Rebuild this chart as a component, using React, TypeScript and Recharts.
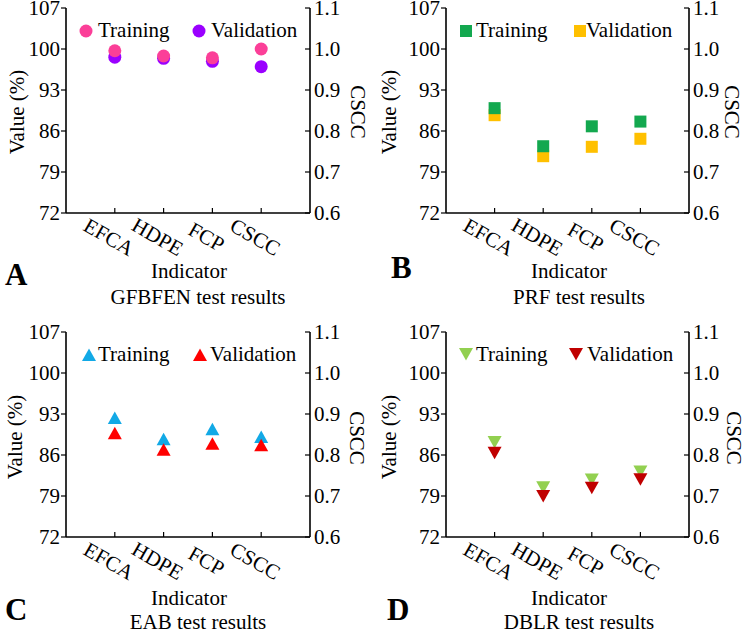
import React from 'react';
import { ScatterChart, Scatter, XAxis, YAxis } from 'recharts';

const indicators = ['EFCA', 'HDPE', 'FCP', 'CSCC'];
const valueTicks = [72, 79, 86, 93, 100, 107];
const csccTicks = [0.6, 0.7, 0.8, 0.9, 1.0, 1.1];
const seriesNames = ['Training', 'Validation'];

// Value (%) for EFCA, HDPE, FCP; the CSCC point is read on the right axis
const gfbfenTraining = [99.7, 98.8, 98.5];
const gfbfenTrainingCscc = [1.0];
const gfbfenValidation = [98.6, 98.4, 97.9];
const gfbfenValidationCscc = [0.957];

const prfTraining = [89.9, 83.4, 86.8];
const prfTrainingCscc = [0.823];
const prfValidation = [88.7, 81.7, 83.3];
const prfValidationCscc = [0.781];

const eabTraining = [92.3, 88.7, 90.4];
const eabTrainingCscc = [0.844];
const eabValidation = [89.7, 86.9, 87.9];
const eabValidationCscc = [0.824];

const dblrTraining = [88.2, 80.5, 81.8];
const dblrTrainingCscc = [0.76];
const dblrValidation = [86.4, 79.0, 80.4];
const dblrValidationCscc = [0.741];

const FONT = '"Liberation Serif", "Times New Roman", serif';
const FS = 21;
const W = 374;
const H = 316;
const axisStyle = { stroke: '#000', strokeWidth: 1.6 };

const toPoints = (vals: number[]) => vals.map((v, i) => ({ x: i + 1, y: v }));
const toCscc = (vals: number[]) => vals.map((v) => ({ x: indicators.length, y: v }));

type Kind = 'circle' | 'square' | 'up' | 'down';

const Marker = ({ kind, cx, cy, color }: { kind: Kind; cx: number; cy: number; color: string }) => {
  if (kind === 'circle') return <circle cx={cx} cy={cy} r={6.5} fill={color} />;
  if (kind === 'square') return <rect x={cx - 6} y={cy - 6} width={12} height={12} fill={color} />;
  if (kind === 'up')
    return <polygon points={`${cx},${cy - 6.5} ${cx + 7},${cy + 6} ${cx - 7},${cy + 6}`} fill={color} />;
  return <polygon points={`${cx},${cy + 6.5} ${cx + 7},${cy - 6} ${cx - 7},${cy - 6}`} fill={color} />;
};

const XTick = (props: any) => {
  const { x, y, payload } = props;
  const name = indicators[payload.value - 1];
  return (
    <g>
      <line x1={x} y1={y} x2={x} y2={y - 5} stroke="#000" strokeWidth={1.2} />
      <text
        x={x - 6}
        y={y + 24}
        transform={`rotate(30, ${x - 6}, ${y + 24})`}
        textAnchor="middle"
        dominantBaseline="central"
        fontFamily={FONT}
        fontSize={FS}
        fill="#000"
      >
        {name}
      </text>
    </g>
  );
};

const LeftTick = (props: any) => {
  const { x, y, payload } = props;
  return (
    <g>
      <line x1={x} y1={y} x2={x - 5} y2={y} stroke="#000" strokeWidth={1.2} />
      <text x={x - 6} y={y + 7} textAnchor="end" fontFamily={FONT} fontSize={FS} fill="#000">
        {payload.value}
      </text>
    </g>
  );
};

const RightTick = (props: any) => {
  const { x, y, payload } = props;
  return (
    <g>
      <line x1={x} y1={y} x2={x - 5} y2={y} stroke="#000" strokeWidth={1.2} />
      <text x={x + 4} y={y + 7} textAnchor="start" fontFamily={FONT} fontSize={FS} fill="#000">
        {Number(payload.value).toFixed(1)}
      </text>
    </g>
  );
};

interface PanelCfg {
  left: number;
  top: number;
  plotLeft: number;
  plotRight: number;
  plotTop: number;
  plotBottom: number;
  kind: Kind;
  colors: [string, string];
  training: number[];
  trainingCscc: number[];
  validation: number[];
  validationCscc: number[];
  validationOnTop: boolean;
  letter: string;
  letterPos: [number, number];
  title: string;
  indicatorPos: [number, number];
  titlePos: [number, number];
  valuePos: [number, number];
  csccPos: [number, number];
  legendMarks: [number, number][];
  legendText: number[];
  legendBase: number;
}

const panels: PanelCfg[] = [
  {
    left: 0, top: 0, plotLeft: 66, plotRight: 310, plotTop: 8, plotBottom: 213,
    kind: 'circle', colors: ['#fb3f98', '#9a00ff'],
    training: gfbfenTraining, trainingCscc: gfbfenTrainingCscc,
    validation: gfbfenValidation, validationCscc: gfbfenValidationCscc, validationOnTop: false,
    letter: 'A', letterPos: [5, 285], title: 'GFBFEN test results',
    indicatorPos: [189, 278], titlePos: [198, 304], valuePos: [17, 112], csccPos: [358, 112],
    legendMarks: [[86, 31], [199, 31]], legendText: [98, 211], legendBase: 37,
  },
  {
    left: 374, top: 0, plotLeft: 72, plotRight: 315, plotTop: 8, plotBottom: 213,
    kind: 'square', colors: ['#13a84f', '#ffc000'],
    training: prfTraining, trainingCscc: prfTrainingCscc,
    validation: prfValidation, validationCscc: prfValidationCscc, validationOnTop: false,
    letter: 'B', letterPos: [17, 278], title: 'PRF test results',
    indicatorPos: [195, 278], titlePos: [205, 304], valuePos: [15, 112], csccPos: [358, 112],
    legendMarks: [[92, 31], [206, 31]], legendText: [102, 212], legendBase: 37,
  },
  {
    left: 0, top: 316, plotLeft: 66, plotRight: 310, plotTop: 16, plotBottom: 221,
    kind: 'up', colors: ['#12a9e6', '#ff0000'],
    training: eabTraining, trainingCscc: eabTrainingCscc,
    validation: eabValidation, validationCscc: eabValidationCscc, validationOnTop: true,
    letter: 'C', letterPos: [5, 304], title: 'EAB test results',
    indicatorPos: [189, 289], titlePos: [198, 313], valuePos: [15, 121], csccPos: [357, 122],
    legendMarks: [[89, 39], [200, 39]], legendText: [98, 210], legendBase: 45,
  },
  {
    left: 374, top: 316, plotLeft: 72, plotRight: 315, plotTop: 16, plotBottom: 221,
    kind: 'down', colors: ['#92d050', '#c00000'],
    training: dblrTraining, trainingCscc: dblrTrainingCscc,
    validation: dblrValidation, validationCscc: dblrValidationCscc, validationOnTop: true,
    letter: 'D', letterPos: [13, 304], title: 'DBLR test results',
    indicatorPos: [195, 289], titlePos: [205, 313], valuePos: [15, 121], csccPos: [360, 122],
    legendMarks: [[92, 38], [202, 38]], legendText: [102, 213], legendBase: 45,
  },
];

const Panel = ({ cfg }: { cfg: PanelCfg }) => {
  const series = [
    { name: seriesNames[0], color: cfg.colors[0], pts: toPoints(cfg.training), cscc: toCscc(cfg.trainingCscc) },
    { name: seriesNames[1], color: cfg.colors[1], pts: toPoints(cfg.validation), cscc: toCscc(cfg.validationCscc) },
  ];
  const drawOrder = cfg.validationOnTop ? [series[0], series[1]] : [series[1], series[0]];
  const shape = (color: string) => (p: any) => <Marker kind={cfg.kind} cx={p.cx} cy={p.cy} color={color} />;
  const txt = { fontFamily: FONT, fontSize: FS, fill: '#000' };

  return (
    <div style={{ position: 'absolute', left: cfg.left, top: cfg.top, width: W, height: H }}>
      <ScatterChart width={W} height={H} margin={{ top: cfg.plotTop, right: 0, bottom: 0, left: 0 }}>
        <XAxis
          type="number"
          dataKey="x"
          domain={[0, indicators.length + 1]}
          ticks={indicators.map((_, i) => i + 1)}
          interval={0}
          tickSize={0}
          tickMargin={0}
          tickLine={false}
          axisLine={axisStyle}
          height={H - cfg.plotBottom}
          tick={<XTick />}
        />
        <YAxis
          yAxisId="value"
          orientation="left"
          type="number"
          dataKey="y"
          domain={[72, 107]}
          ticks={valueTicks}
          interval={0}
          tickSize={0}
          tickMargin={0}
          tickLine={false}
          axisLine={axisStyle}
          width={cfg.plotLeft}
          tick={<LeftTick />}
        />
        <YAxis
          yAxisId="cscc"
          orientation="right"
          type="number"
          dataKey="y"
          domain={[0.6, 1.1]}
          ticks={csccTicks}
          interval={0}
          tickSize={0}
          tickMargin={0}
          tickLine={false}
          axisLine={axisStyle}
          width={W - cfg.plotRight}
          tick={<RightTick />}
        />
        {drawOrder.map((s) => [
          <Scatter
            key={s.name + '-v'}
            name={s.name}
            data={s.pts}
            yAxisId="value"
            fill={s.color}
            shape={shape(s.color)}
            isAnimationActive={false}
          />,
          <Scatter
            key={s.name + '-c'}
            name={s.name + ' CSCC'}
            data={s.cscc}
            yAxisId="cscc"
            fill={s.color}
            shape={shape(s.color)}
            isAnimationActive={false}
          />,
        ])}
      </ScatterChart>
      <svg width={W} height={H} style={{ position: 'absolute', left: 0, top: 0, pointerEvents: 'none' }}>
        {series.map((s, i) => (
          <g key={s.name}>
            <Marker kind={cfg.kind} cx={cfg.legendMarks[i][0]} cy={cfg.legendMarks[i][1]} color={s.color} />
            <text x={cfg.legendText[i]} y={cfg.legendBase} {...txt}>
              {s.name}
            </text>
          </g>
        ))}
        <text x={cfg.indicatorPos[0]} y={cfg.indicatorPos[1]} textAnchor="middle" {...txt}>
          Indicator
        </text>
        <text x={cfg.titlePos[0]} y={cfg.titlePos[1]} textAnchor="middle" {...txt}>
          {cfg.title}
        </text>
        <text x={cfg.letterPos[0]} y={cfg.letterPos[1]} fontFamily={FONT} fontSize={31} fontWeight="bold" fill="#000">
          {cfg.letter}
        </text>
        <text
          x={cfg.valuePos[0]}
          y={cfg.valuePos[1]}
          transform={`rotate(-90, ${cfg.valuePos[0]}, ${cfg.valuePos[1]})`}
          textAnchor="middle"
          dominantBaseline="central"
          {...txt}
        >
          Value (%)
        </text>
        <text
          x={cfg.csccPos[0]}
          y={cfg.csccPos[1]}
          transform={`rotate(90, ${cfg.csccPos[0]}, ${cfg.csccPos[1]})`}
          textAnchor="middle"
          dominantBaseline="central"
          {...txt}
        >
          CSCC
        </text>
      </svg>
    </div>
  );
}

export default function App() {
  return (
    <div style={{ position: 'absolute', left: 0, top: 0, width: 748, height: 632, background: '#fff', overflow: 'hidden' }}>
      {panels.map((p) => (
        <Panel key={p.letter} cfg={p} />
      ))}
    </div>
  );
}
